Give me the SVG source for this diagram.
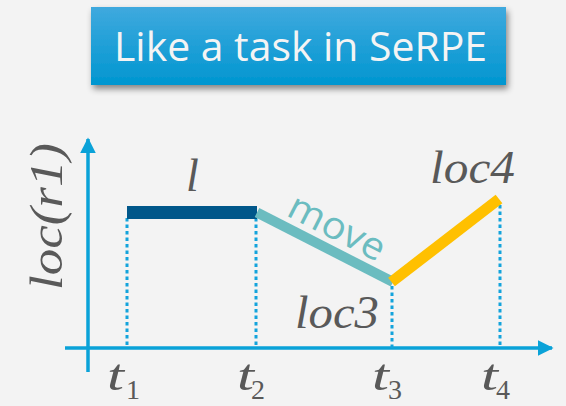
<svg xmlns="http://www.w3.org/2000/svg" width="566" height="406" viewBox="0 0 566 406">
<style>
.math{font-family:"Liberation Serif","DejaVu Serif",serif;font-style:italic;fill:#595959}
.sub{font-family:"Liberation Serif","DejaVu Serif",serif;fill:#595959;font-size:28px}
.axis{stroke:#0aa2d8;stroke-width:3.5;fill:none}
.dot{stroke:#13a3dc;stroke-width:3;stroke-dasharray:3.5 3;fill:none}
</style>
<defs>
<linearGradient id="tg" x1="0" y1="0" x2="0" y2="1">
<stop offset="0" stop-color="#3fa9de"/>
<stop offset="1" stop-color="#0096d0"/>
</linearGradient>
<filter id="sh" x="-10%" y="-20%" width="120%" height="150%">
<feDropShadow dx="2" dy="4" stdDeviation="3" flood-color="#000" flood-opacity="0.45"/>
</filter>
<marker id="arr" viewBox="0 0 10 10" refX="9" refY="5" markerWidth="4.5" markerHeight="4.5" orient="auto" markerUnits="strokeWidth">
<path d="M0,0 L10,5 L0,10 Z" fill="#0aa2d8"/>
</marker>
</defs>
<rect width="566" height="406" fill="#f3f3f3"/>
<g id="title">
<rect x="91" y="7" width="415" height="78" fill="url(#tg)" filter="url(#sh)"/>
<text x="114" y="61" font-family="'Open Sans','Noto Sans',sans-serif" font-size="40" fill="#f4f4f4" textLength="373" lengthAdjust="spacingAndGlyphs">Like a task in SeRPE</text>
</g>
<g id="axes">
<line class="axis" x1="88" y1="372" x2="88" y2="139" marker-end="url(#arr)"/>
<line class="axis" x1="65" y1="348" x2="552" y2="348" marker-end="url(#arr)"/>
</g>
<g id="guides">
<line class="dot" x1="127" y1="218" x2="127" y2="348"/>
<line class="dot" x1="256" y1="218" x2="256" y2="348"/>
<line class="dot" x1="392" y1="286" x2="392" y2="348"/>
<line class="dot" x1="500" y1="205" x2="500" y2="348"/>
</g>
<g id="segments">
<rect x="127" y="206" width="130" height="13" fill="#00578a"/>
<line x1="257" y1="212.5" x2="393" y2="282" stroke="#6bbcc0" stroke-width="10"/>
<line x1="391.5" y1="282" x2="499" y2="199" stroke="#ffc000" stroke-width="11"/>
</g>
<g id="labels">
<text class="math" x="-290" y="62" font-size="46" transform="rotate(-90)" textLength="147" lengthAdjust="spacingAndGlyphs">loc(r1)</text>
<text class="math" x="186" y="191" font-size="46">l</text>
<text class="math" x="430" y="183" font-size="46" textLength="85" lengthAdjust="spacingAndGlyphs">loc4</text>
<text class="math" x="295" y="328" font-size="46" textLength="84" lengthAdjust="spacingAndGlyphs">loc3</text>
<text x="285" y="215" font-family="'Open Sans','Noto Sans',sans-serif" font-size="38" fill="#6bbcc0" transform="rotate(27 285 215)" textLength="104" lengthAdjust="spacingAndGlyphs">move</text>
<text class="math" x="107" y="390" font-size="44" textLength="17" lengthAdjust="spacingAndGlyphs">t</text><text class="sub" x="126" y="399">1</text>
<text class="math" x="237" y="390" font-size="44" textLength="17" lengthAdjust="spacingAndGlyphs">t</text><text class="sub" x="251" y="399">2</text>
<text class="math" x="372" y="390" font-size="44" textLength="17" lengthAdjust="spacingAndGlyphs">t</text><text class="sub" x="388" y="399">3</text>
<text class="math" x="481" y="390" font-size="44" textLength="17" lengthAdjust="spacingAndGlyphs">t</text><text class="sub" x="496" y="399">4</text>
</g>
</svg>
